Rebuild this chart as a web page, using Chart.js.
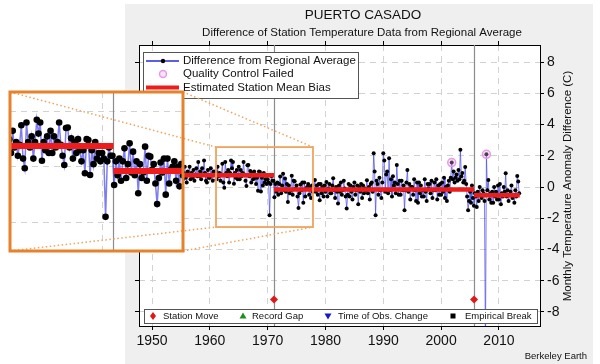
<!DOCTYPE html>
<html>
<head>
<meta charset="utf-8">
<script src="https://cdn.jsdelivr.net/npm/chart.js@4.4.1/dist/chart.umd.min.js"></script>
<style>
    html, body { margin: 0; padding: 0; background: #fff; }
    #wrap { position: relative; width: 600px; height: 364px; overflow: hidden; }
    #wrap canvas { position: absolute; }
    #main { left: 0; top: 0; }
    #inset { left: 10px; top: 92px; }
    #overlay { left: 0; top: 0; pointer-events: none; }
</style>
</head>
<body>
<div id="wrap">
    <canvas id="main" width="600" height="364"></canvas>
    <canvas id="inset" width="173" height="159"></canvas>
    <canvas id="overlay" width="600" height="364"></canvas>
</div>
<script>
// Data -----------------------------------------------------------------------------------

var TITLE = 'PUERTO CASADO';
var SUBTITLE = 'Difference of Station Temperature Data from Regional Average';
var Y_TITLE = 'Monthly Temperature Anomaly Difference (C)';
var CREDIT = 'Berkeley Earth';

var legendLabels = ['Difference from Regional Average', 'Quality Control Failed', 'Estimated Station Mean Bias'];
var breakLabels = ['Station Move', 'Record Gap', 'Time of Obs. Change', 'Empirical Break'];

var yearTicks = [1950, 1960, 1970, 1980, 1990, 2000, 2010];
var diffTicks = [-8, -6, -4, -2, 0, 2, 4, 6, 8];

// difference from regional average (C), six samples per year
var FIRST_YEAR = 1954;
var SAMPLES_PER_YEAR = 6;

var diff1950s = [
    1.2, 0.6, 1.4, 0.4, 1.0, 0.7,       // 1954
    1.1, 1.5, 0.5, 0.9, 1.3, 0.6,       // 1955
    0.3, 1.0, 0.8, 1.3, 0.5, 0.9,       // 1956
    0.6, 1.1, 0.4, 0.8, 1.2, 0.7,       // 1957
    1.6, 0.7, 1.0, 0.5, 1.2, 0.8,       // 1958
    1.7, 0.9, 0.4, 0.3, 1.1, 0.6        // 1959
];
var diff1960s = [
    0.6, 1.2, 0.8, 0.4, 1.0, 0.9,       // 1960
    1.0, 0.5, 1.3, 0.7, 0.9, 0.4,       // 1961
    0.8, 1.5, 0.3, -0.05, 1.6, 0.9,     // 1962
    0.7, 1.1, 0.3, 0.9, 1.7, 1.2,       // 1963
    1.6, 0.22, 0.9, 0.6, 1.1, 0.5,      // 1964
    1.3, 0.5, 1.1, 0.7, 0.9, 1.6,       // 1965
    0.8, 0.4, 0.07, 1.4, 1.42, 0.7,     // 1966
    1.03, 0.3, 0.9, 0.5, 1.0, 0.6,      // 1967
    0.2, 0.6, -0.23, 1.0, 0.97, -0.29,  // 1968
    0.6, 0.1, 0.9, 0.3, 0.5, 0.2        // 1969
];
var diff1970s = [
    0.5, 0.3, -1.8, 0.2, 0.7, 0.4,      // 1970
    0.4, -0.65, 0.2, -0.3, 0.3, -0.5,   // 1971
    0.2, 0.67, -0.4, 0.1, 0.85, -0.2,   // 1972
    0.55, -0.3, 0.2, -0.95, 0.1, -0.4,  // 1973
    -0.2, 0.73, -0.5, 0.4, 0.37, -0.1,  // 1974
    0.1, -0.6, -1.34, -0.4, 0.16, -0.2, // 1975
    0.3, -1.0, 0.3, -0.6, -0.1, 0.0,    // 1976
    0.2, -0.5, 0.0, -0.7, 0.1, -0.3,    // 1977
    -0.2, 0.45, -0.3, 0.1, -0.5, 0.2,   // 1978
    -0.84, 0.2, -0.4, 0.0, -0.6, 0.1    // 1979
];
var diff1980s = [
    -0.3, 0.33, -0.6, -0.1, 0.2, -0.4,  // 1980
    -0.4, 0.1, 0.56, -0.2, -0.7, 0.0,   // 1981
    -0.3, -1.05, 0.1, -0.3, 0.3, -0.5,  // 1982
    -0.2, 0.4, -0.1, -0.6, -1.38, -0.5, // 1983
    0.2, -0.6, 0.1, -0.3, -0.8, 0.0,    // 1984
    0.3, -0.5, -0.2, 0.1, -1.1, 0.0,    // 1985
    -0.3, 0.2, -0.7, 0.1, -0.4, -0.1,   // 1986
    -0.2, 0.43, -0.4, 0.0, -0.8, 0.2,   // 1987
    0.3, -0.3, 2.17, 1.0, -1.8, 0.4,    // 1988
    0.2, -0.5, 0.6, -0.2, -0.7, 0.3     // 1989
];
var diff1990s = [
    2.17, 1.7, -0.3, 0.8, 1.0, -0.4,    // 1990
    1.85, -0.2, 0.5, -0.6, 0.7, 0.1,    // 1991
    0.3, -0.4, 1.42, 0.2, -0.5, 0.4,    // 1992
    -0.5, 0.4, -0.2, 0.1, -1.48, -0.2,  // 1993
    0.3, 1.1, -0.3, 0.2, -0.8, 0.0,     // 1994
    0.0, -0.5, 0.5, -0.2, -0.9, 0.3,    // 1995
    -1.0, 0.3, -0.4, 0.1, -0.6, -0.2,   // 1996
    -0.6, 0.5, -0.3, -0.9, 0.2, -0.1,   // 1997
    0.2, -0.4, 0.4, -0.7, -0.2, 0.3,    // 1998
    -0.2, 0.5, -0.8, 0.1, -0.5, 0.2     // 1999
];
var diff2000s = [
    -0.5, 0.3, -0.3, 0.6, -0.7, 0.0,    // 2000
    -0.9, 0.1, 0.4, -0.3, 0.6, 1.57,    // 2001
    0.5, 1.0, 0.3, 0.6, 0.8, 0.4,       // 2002
    1.1, 0.5, 2.39, 0.7, 0.9, 0.3,      // 2003
    0.4, 1.29, 0.2, -0.6, -1.48, -0.9,  // 2004
    -0.3, -1.0, 0.1, -0.7, -1.2, -0.4,  // 2005
    -0.6, -1.27, -0.3, -0.9, 0.0, -0.5, // 2006
    -0.7, -0.2, -0.4, -0.9, -10.5, 2.1, // 2007
    -0.2, 0.45, -0.8, -0.4, -1.0, -0.3, // 2008
    -1.0, 0.0, -0.6, -0.3, -0.8, 0.1    // 2009
];
var diff2010s = [
    -0.8, 0.2, -1.1, -0.4, -0.6, 0.0,   // 2010
    -0.3, 0.88, -0.6, -0.2, -0.9, -0.5, // 2011
    -0.3, 0.1, -0.7, -0.5, -1.0, -0.2,  // 2012
    -0.6, 0.71, 0.35, -0.4              // 2013
];

var qcYears = [2001.83, 2007.83];
var qcValues = [1.57, 2.1];

var biasStart = [1954, 1971.1, 2005.7];
var biasEnd = [1971.1, 2005.7, 2013.6];
var biasValue = [0.75, -0.15, -0.52];

var moveYears = [1971.1, 2005.7];

// Constants ------------------------------------------------------------------------------

var FONT = '"Liberation Sans", Arial, Helvetica, sans-serif';

var X_MIN = 1947.75, X_MAX = 2017.1;
var Y_MIN = -8.9, Y_MAX = 9.1;
var MOVE_MARKER_Y = -7.2;

var INSET_X = [1961.07, 1977.84];   // zoomed year range
var INSET_Y = [-3.03, 2.70];        // zoomed value range shown in the inset
var BOX_Y = [-2.56, 2.56];          // value range of the marker box on the main plot
var INSET_RECT = {x: 10, y: 92, w: 173, h: 159};

var BLUE = 'rgba(70, 70, 235, 0.7)';
var RED = '#ee1c1c';
var GRID = '#d2d2d2';
var PANEL = '#efefef';
var ORANGE = '#e8812c';
var ORANGE_LIGHT = '#f0a35e';

// Data builders --------------------------------------------------------------------------

function buildDiffPoints() {
    var all = diff1950s.concat(diff1960s, diff1970s, diff1980s, diff1990s, diff2000s, diff2010s);
    return all.map(function (v, i) {
        return {x: FIRST_YEAR + i / SAMPLES_PER_YEAR, y: v};
    });
}

function buildBiasPoints() {
    var pts = [];
    for (var i = 0; i < biasValue.length; i++) {
        pts.push({x: biasStart[i], y: biasValue[i]});
        pts.push({x: biasEnd[i], y: biasValue[i]});
        pts.push({x: biasEnd[i], y: null});
    }
    return pts;
}

function buildQcPoints() {
    return qcYears.map(function (yr, i) { return {x: yr, y: qcValues[i]}; });
}

function buildDatasets(big) {
    return [{
        label: legendLabels[2],
        data: buildBiasPoints(),
        borderColor: RED,
        borderWidth: big ? 6 : 4.5,
        pointRadius: 0,
        spanGaps: false,
        order: 0
    }, {
        label: legendLabels[1],
        data: buildQcPoints(),
        showLine: false,
        pointRadius: big ? 6 : 4,
        pointBackgroundColor: 'rgba(235, 170, 235, 0.35)',
        pointBorderColor: '#e39be3',
        pointBorderWidth: 1.5,
        order: 1
    }, {
        label: legendLabels[0],
        data: buildDiffPoints(),
        borderColor: BLUE,
        borderWidth: big ? 1.5 : 1,
        pointRadius: big ? 3.3 : 2.0,
        pointBackgroundColor: '#000',
        pointBorderWidth: 0,
        order: 2
    }];
}

// Axes -----------------------------------------------------------------------------------

function fixedTicks(values) {
    return function (scale) {
        scale.ticks = values.filter(function (v) {
            return v >= scale.min && v <= scale.max;
        }).map(function (v) { return {value: v}; });
    };
}

function mainAxis(position, size, labelled, min, max, values) {
    var horizontal = position === 'top' || position === 'bottom';
    return {
        type: 'linear',
        position: position,
        min: min,
        max: max,
        afterBuildTicks: fixedTicks(values),
        afterFit: function (s) {
            if (horizontal) { s.height = size; } else { s.width = size; }
        },
        grid: {
            drawOnChartArea: labelled,
            color: GRID,
            lineWidth: 1,
            tickColor: '#000',
            tickLength: 4,
            tickWidth: 1
        },
        border: {display: true, color: '#000', width: 1, dash: [6, 5]},
        ticks: {
            display: labelled,
            color: '#111',
            font: {family: FONT, size: 14},
            padding: 3,
            maxRotation: 0,
            autoSkip: false,
            callback: function (v) { return String(v); }
        }
    };
}

function insetAxis(position, min, max, values) {
    var horizontal = position === 'bottom';
    return {
        type: 'linear',
        position: position,
        min: min,
        max: max,
        afterBuildTicks: fixedTicks(values),
        afterFit: function (s) {
            if (horizontal) { s.height = 0; } else { s.width = 0; }
        },
        grid: {drawOnChartArea: true, drawTicks: false, color: GRID, lineWidth: 1},
        border: {display: false, dash: [6, 5]},
        ticks: {display: false}
    };
}

// Plugins --------------------------------------------------------------------------------

function drawMoveLines(chart) {
    var ctx = chart.ctx, area = chart.chartArea, sx = chart.scales.x;
    ctx.save();
    ctx.strokeStyle = '#8c8c8c';
    ctx.lineWidth = 1.2;
    moveYears.forEach(function (yr) {
        var px = Math.round(sx.getPixelForValue(yr)) + 0.5;
        ctx.beginPath();
        ctx.moveTo(px, area.top);
        ctx.lineTo(px, area.bottom);
        ctx.stroke();
    });
    ctx.restore();
}

function drawTopLegend(ctx) {
    var rows = [61, 74, 87.5];
    ctx.save();
    ctx.fillStyle = '#fff';
    ctx.fillRect(143.5, 52.5, 215, 46);
    ctx.strokeStyle = '#555';
    ctx.lineWidth = 1;
    ctx.strokeRect(143.5, 52.5, 215, 46);

    ctx.strokeStyle = 'rgba(40, 40, 220, 1)';
    ctx.lineWidth = 1.5;
    ctx.beginPath(); ctx.moveTo(146, rows[0]); ctx.lineTo(179, rows[0]); ctx.stroke();
    ctx.fillStyle = '#000';
    ctx.beginPath(); ctx.arc(163, rows[0], 2.2, 0, Math.PI * 2); ctx.fill();

    ctx.fillStyle = 'rgba(235, 170, 235, 0.35)';
    ctx.strokeStyle = '#e39be3';
    ctx.beginPath(); ctx.arc(163, rows[1], 3.5, 0, Math.PI * 2); ctx.fill(); ctx.stroke();

    ctx.strokeStyle = RED;
    ctx.lineWidth = 4;
    ctx.beginPath(); ctx.moveTo(146, rows[2]); ctx.lineTo(179, rows[2]); ctx.stroke();

    ctx.fillStyle = '#111';
    ctx.font = '11.5px ' + FONT;
    ctx.textAlign = 'left';
    ctx.textBaseline = 'middle';
    legendLabels.forEach(function (label, i) { ctx.fillText(label, 183, rows[i]); });
    ctx.restore();
}

function drawBottomLegend(ctx) {
    var cy = 316;
    var markX = [153, 243, 328, 453];
    var textX = [163, 252, 338, 465];
    ctx.save();
    ctx.fillStyle = '#fff';
    ctx.fillRect(144.5, 309.5, 393, 14);
    ctx.strokeStyle = '#555';
    ctx.lineWidth = 1;
    ctx.strokeRect(144.5, 309.5, 393, 14);

    ctx.fillStyle = '#e01818';
    ctx.beginPath();
    ctx.moveTo(markX[0], cy - 4); ctx.lineTo(markX[0] + 3, cy);
    ctx.lineTo(markX[0], cy + 4); ctx.lineTo(markX[0] - 3, cy);
    ctx.closePath(); ctx.fill();

    ctx.fillStyle = '#1d8f1d';
    ctx.beginPath();
    ctx.moveTo(markX[1], cy - 3.5); ctx.lineTo(markX[1] + 3.5, cy + 2.5); ctx.lineTo(markX[1] - 3.5, cy + 2.5);
    ctx.closePath(); ctx.fill();

    ctx.fillStyle = '#1616d0';
    ctx.beginPath();
    ctx.moveTo(markX[2], cy + 3.5); ctx.lineTo(markX[2] + 3.5, cy - 2.5); ctx.lineTo(markX[2] - 3.5, cy - 2.5);
    ctx.closePath(); ctx.fill();

    ctx.fillStyle = '#000';
    ctx.fillRect(markX[3] - 2.5, cy - 2.5, 5, 5);

    ctx.fillStyle = '#111';
    ctx.font = '9.5px ' + FONT;
    ctx.textAlign = 'left';
    ctx.textBaseline = 'middle';
    breakLabels.forEach(function (label, i) { ctx.fillText(label, textX[i], cy + 0.5); });
    ctx.restore();
}

var mainPlugin = {
    id: 'mainDecor',
    beforeDraw: function (chart) {
        var ctx = chart.ctx, a = chart.chartArea;
        ctx.save();
        ctx.fillStyle = '#fff';
        ctx.fillRect(0, 0, chart.width, chart.height);
        ctx.fillStyle = PANEL;
        ctx.fillRect(125, 4, 468, 360);
        ctx.fillStyle = '#fff';
        ctx.fillRect(a.left, a.top, a.right - a.left, a.bottom - a.top);
        ctx.restore();
    },
    beforeDatasetsDraw: function (chart) {
        drawMoveLines(chart);
    },
    afterDraw: function (chart) {
        var ctx = chart.ctx;
        ctx.save();
        ctx.fillStyle = '#111';
        ctx.textAlign = 'center';
        ctx.textBaseline = 'middle';
        ctx.font = '13.5px ' + FONT;
        ctx.fillText(TITLE, 363, 15);
        ctx.font = '11.5px ' + FONT;
        ctx.fillText(SUBTITLE, 362, 33);

        ctx.save();
        ctx.translate(568, 186);
        ctx.rotate(-Math.PI / 2);
        ctx.fillText(Y_TITLE, 0, 0);
        ctx.restore();

        ctx.font = '9.5px ' + FONT;
        ctx.textAlign = 'right';
        ctx.fillText(CREDIT, 587, 356);
        ctx.restore();

        drawTopLegend(ctx);
        drawBottomLegend(ctx);
    }
};

var insetPlugin = {
    id: 'insetDecor',
    beforeDraw: function (chart) {
        chart.ctx.save();
        chart.ctx.fillStyle = '#fff';
        chart.ctx.fillRect(0, 0, chart.width, chart.height);
        chart.ctx.restore();
    },
    beforeDatasetsDraw: function (chart) {
        drawMoveLines(chart);
    }
};

// Charts ---------------------------------------------------------------------------------

var mainDatasets = buildDatasets(false);
mainDatasets.push({
    label: breakLabels[0],
    data: moveYears.map(function (yr) { return {x: yr, y: MOVE_MARKER_Y}; }),
    showLine: false,
    pointStyle: 'rectRot',
    pointRadius: 4,
    pointBackgroundColor: '#e01818',
    pointBorderWidth: 0,
    order: -1
});

var mainChart = new Chart(document.getElementById('main').getContext('2d'), {
    type: 'line',
    data: {datasets: mainDatasets},
    options: {
        responsive: false,
        animation: false,
        events: [],
        layout: {padding: 0, autoPadding: false},
        elements: {line: {tension: 0}},
        plugins: {legend: {display: false}, tooltip: {enabled: false}},
        scales: {
            x: mainAxis('bottom', 38, true, X_MIN, X_MAX, yearTicks),
            xTop: mainAxis('top', 45, false, X_MIN, X_MAX, yearTicks),
            y: mainAxis('right', 60, true, Y_MIN, Y_MAX, diffTicks),
            yLeft: mainAxis('left', 139, false, Y_MIN, Y_MAX, diffTicks)
        }
    },
    plugins: [mainPlugin]
});

var insetChart = new Chart(document.getElementById('inset').getContext('2d'), {
    type: 'line',
    data: {datasets: buildDatasets(true)},
    options: {
        responsive: false,
        animation: false,
        events: [],
        layout: {padding: 0, autoPadding: false},
        elements: {line: {tension: 0}},
        plugins: {legend: {display: false}, tooltip: {enabled: false}},
        scales: {
            x: insetAxis('bottom', INSET_X[0], INSET_X[1], yearTicks),
            y: insetAxis('left', INSET_Y[0], INSET_Y[1], diffTicks)
        }
    },
    plugins: [insetPlugin]
});

// Zoom marks: inset frame, box on the main plot and the dotted connectors
function drawZoomMarks(chart) {
    var ctx = document.getElementById('overlay').getContext('2d');
    var sx = chart.scales.x, sy = chart.scales.y, r = INSET_RECT;
    var bx0 = sx.getPixelForValue(INSET_X[0]), bx1 = sx.getPixelForValue(INSET_X[1]);
    var byTop = sy.getPixelForValue(BOX_Y[1]), byBot = sy.getPixelForValue(BOX_Y[0]);

    ctx.save();
    ctx.strokeStyle = ORANGE_LIGHT;
    ctx.lineWidth = 1.5;
    ctx.setLineDash([1.5, 2.5]);
    [[r.x, r.y, bx0, byTop], [r.x + r.w, r.y, bx1, byTop],
     [r.x, r.y + r.h, bx0, byBot], [r.x + r.w, r.y + r.h, bx1, byBot]].forEach(function (l) {
        ctx.beginPath();
        ctx.moveTo(l[0], l[1]);
        ctx.lineTo(l[2], l[3]);
        ctx.stroke();
    });
    ctx.setLineDash([]);
    ctx.lineWidth = 1.8;
    ctx.strokeRect(bx0, byTop, bx1 - bx0, byBot - byTop);
    ctx.strokeStyle = ORANGE;
    ctx.lineWidth = 3;
    ctx.strokeRect(r.x, r.y, r.w, r.h);
    ctx.restore();
}

drawZoomMarks(mainChart);
</script>
</body>
</html>
